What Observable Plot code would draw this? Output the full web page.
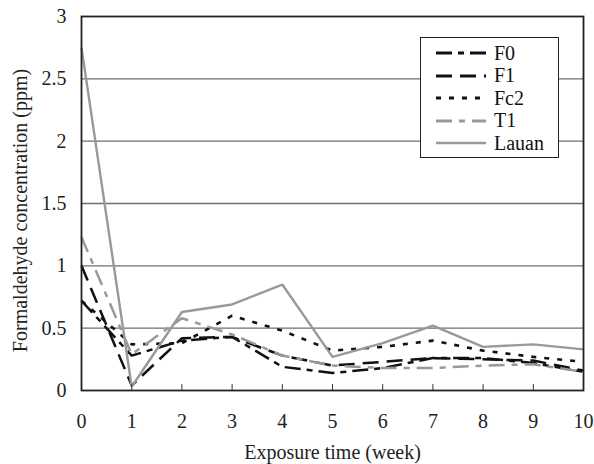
<!DOCTYPE html>
<html>
<head>
<meta charset="utf-8">
<script src="https://cdn.jsdelivr.net/npm/d3@7"></script>
<script src="https://cdn.jsdelivr.net/npm/@observablehq/plot@0.6"></script>
<style>
  html, body { margin: 0; padding: 0; background: #fff; }
  #wrap { position: relative; width: 594px; height: 464px; font-family: "Liberation Serif", serif; }
  #legend { position: absolute; left: 420px; top: 37px; width: 139px; height: 121px; border: 1.5px solid #222; background: #fff; box-sizing: border-box; }
  #legend .row { position: absolute; left: 15px; height: 22px; display: flex; align-items: center; color: #111; font-family: "Liberation Serif", serif; font-size: 20px; }
  #legend svg { margin-right: 8px; }
</style>
</head>
<body>
<div id="wrap"></div>
<script>
const weeks = [0, 1, 2, 3, 4, 5, 6, 7, 8, 9, 10];
const F0    = [0.72, 0.28, 0.40, 0.43, 0.19, 0.14, 0.18, 0.26, 0.26, 0.22, 0.15];
const F1    = [1.00, 0.04, 0.42, 0.43, 0.28, 0.20, 0.23, 0.26, 0.25, 0.24, 0.16];
const Fc2   = [0.72, 0.37, 0.38, 0.60, 0.48, 0.32, 0.35, 0.40, 0.32, 0.27, 0.23];
const T1    = [1.23, 0.29, 0.58, 0.45, 0.28, 0.20, 0.18, 0.18, 0.20, 0.21, 0.15];
const Lauan = [2.75, 0.03, 0.63, 0.69, 0.85, 0.27, 0.38, 0.52, 0.35, 0.37, 0.33];
const seriesNames = ["F0", "F1", "Fc2", "T1", "Lauan"];
const yTicks = [0, 0.5, 1, 1.5, 2, 2.5, 3];
const yGrid = [0.5, 1, 1.5, 2, 2.5];

const FONT = "'Liberation Serif', serif";

const styles = {
  F0:    {stroke: "#111", dash: "16,6,6,6", width: 2.5},
  F1:    {stroke: "#111", dash: "16,8", width: 2.5},
  Fc2:   {stroke: "#111", dash: "5,8", width: 2.6},
  T1:    {stroke: "#999", dash: "16,7,6,7", width: 2.5},
  Lauan: {stroke: "#999", dash: null, width: 2.4}
};
const values = {F0, F1, Fc2, T1, Lauan};

const lineMarks = seriesNames.map(name =>
  Plot.line(weeks.map((w, i) => ({week: w, v: values[name][i]})), {
    x: "week", y: "v",
    stroke: styles[name].stroke,
    strokeWidth: styles[name].width,
    strokeDasharray: styles[name].dash,
    strokeLinejoin: "miter",
    strokeLinecap: "butt"
  })
);

const fmt = d => String(d);

const chart = Plot.plot({
  width: 594,
  height: 464,
  marginLeft: 81,
  marginRight: 11,
  marginTop: 16,
  marginBottom: 74,
  style: {background: "#fff", color: "#222", fontFamily: FONT, fontSize: "20px"},
  x: {domain: [0, 10]},
  y: {domain: [0, 3]},
  marks: [
    Plot.ruleY(yGrid, {stroke: "#6e6e6e", strokeWidth: 1.3}),
    ...lineMarks,
    Plot.axisX(weeks, {anchor: "bottom", tickSize: -6, text: null, label: null, stroke: "#333"}),
    Plot.axisX(weeks, {anchor: "bottom", tickSize: 0, tickPadding: 23, tickFormat: fmt, fontSize: 20, label: "Exposure time (week)", labelAnchor: "center", labelOffset: 68, labelArrow: "none"}),
    Plot.axisY(yTicks, {anchor: "left", tickSize: 0, tickPadding: 15, tickFormat: fmt, fontSize: 20, label: "Formaldehyde concentration (ppm)", labelAnchor: "center", labelOffset: 69, labelArrow: "none"}),
    Plot.frame({stroke: "#222", strokeWidth: 1.8})
  ]
});

chart.querySelectorAll("g, text").forEach(el => {
  if (el.hasAttribute("font-family")) el.setAttribute("font-family", FONT);
  if (el.hasAttribute("font-size")) el.setAttribute("font-size", "20");
  el.style.fontFamily = FONT;
});
// nudge the y-axis title slightly downward, as in the reference
chart.querySelectorAll('[aria-label="y-axis label"] text').forEach(t => t.setAttribute("dx", "-7"));

const wrap = document.getElementById("wrap");
wrap.appendChild(chart);

// legend overlay
const legend = document.createElement("div");
legend.id = "legend";
seriesNames.forEach((name, i) => {
  const row = document.createElement("div");
  row.className = "row";
  row.style.top = (4 + i * 22.5) + "px";
  const s = styles[name];
  row.innerHTML = `<svg width="50" height="10"><line x1="0" y1="5" x2="50" y2="5" stroke="${s.stroke}" stroke-width="${s.width + 0.3}" ${s.dash ? `stroke-dasharray="${s.dash}"` : ""}/></svg><span>${name}</span>`;
  legend.appendChild(row);
});
wrap.appendChild(legend);
</script>
</body>
</html>
